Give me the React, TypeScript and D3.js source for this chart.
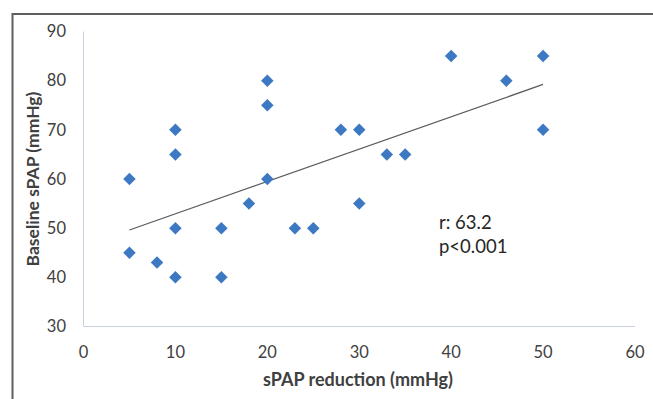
import React, { useEffect, useRef } from 'react';
import * as d3 from 'd3';

// sPAP reduction (mmHg) vs baseline sPAP (mmHg)
const reduction = [5, 5, 8, 10, 10, 10, 10, 15, 15, 18, 20, 20, 20, 23, 25, 28, 30, 30, 33, 35, 40, 46, 50, 50];
const baseline = [60, 45, 43, 70, 65, 50, 40, 50, 40, 55, 80, 75, 60, 50, 50, 70, 70, 55, 65, 65, 85, 80, 85, 70];

const xTicks = [0, 10, 20, 30, 40, 50, 60];
const yTicks = [30, 40, 50, 60, 70, 80, 90];
const statLines = ['r: 63.2', 'p<0.001'];

const W = 653;
const H = 399;
const FONT = 'Lato, "Open Sans", sans-serif';

const App = () => {
  const svgRef = useRef<SVGSVGElement | null>(null);

  useEffect(() => {
    const svg = d3.select(svgRef.current);
    svg.selectAll('*').remove();

    const x = d3.scaleLinear().domain([0, 60]).range([83.5, 635]);
    const y = d3.scaleLinear().domain([30, 90]).range([326.5, 31.5]);

    // outer frame (runs off the right and bottom edge)
    svg.append('path')
      .attr('d', `M12.5,${H + 5} L12.5,14 L${W + 5},14`)
      .attr('fill', 'none')
      .attr('stroke', '#5f5f5f')
      .attr('stroke-width', 2);

    // axes lines
    svg.append('line')
      .attr('x1', x(0)).attr('x2', x(0))
      .attr('y1', y(90)).attr('y2', y(30))
      .attr('stroke', '#c9d2dc').attr('stroke-width', 1);
    svg.append('line')
      .attr('x1', x(0)).attr('x2', x(60))
      .attr('y1', y(30)).attr('y2', y(30))
      .attr('stroke', '#c9d2dc').attr('stroke-width', 1);

    svg.append('g').selectAll('text')
      .data(yTicks)
      .enter().append('text')
      .attr('x', 66)
      .attr('y', d => y(d))
      .attr('dy', '0.35em')
      .attr('text-anchor', 'end')
      .attr('font-family', FONT)
      .attr('font-size', 16.5)
      .attr('fill', '#404040')
      .text(d => d);

    svg.append('g').selectAll('text')
      .data(xTicks)
      .enter().append('text')
      .attr('x', d => x(d))
      .attr('y', 352)
      .attr('dy', '0.35em')
      .attr('text-anchor', 'middle')
      .attr('font-family', FONT)
      .attr('font-size', 16.5)
      .attr('fill', '#404040')
      .text(d => d);

    // axis titles
    svg.append('text')
      .attr('x', 358)
      .attr('y', 380)
      .attr('dy', '0.35em')
      .attr('text-anchor', 'middle')
      .attr('font-family', FONT)
      .attr('font-size', 18)
      .attr('font-weight', 'bold')
      .attr('fill', '#404040')
      .text('sPAP reduction (mmHg)');

    svg.append('text')
      .attr('transform', `translate(33,${(y(30) + y(90)) / 2}) rotate(-90)`)
      .attr('dy', '0.35em')
      .attr('text-anchor', 'middle')
      .attr('font-family', FONT)
      .attr('font-size', 17.5)
      .attr('font-weight', 'bold')
      .attr('fill', '#404040')
      .text('Baseline sPAP (mmHg)');

    // linear trend line
    const mx = d3.mean(reduction) as number;
    const my = d3.mean(baseline) as number;
    const sxy = d3.sum(reduction, (v, i) => (v - mx) * (baseline[i] - my));
    const sxx = d3.sum(reduction, v => (v - mx) ** 2);
    const slope = sxy / sxx;
    const icpt = my - slope * mx;
    const [x0, x1] = d3.extent(reduction) as [number, number];

    svg.append('line')
      .attr('x1', x(x0)).attr('y1', y(icpt + slope * x0))
      .attr('x2', x(x1)).attr('y2', y(icpt + slope * x1))
      .attr('stroke', '#5a5a5a')
      .attr('stroke-width', 1.2);

    // diamonds
    const diamond = d3.symbol().type(d3.symbolDiamond2).size(100);
    svg.append('g').selectAll('path')
      .data(reduction.map((v, i) => [v, baseline[i]]))
      .enter().append('path')
      .attr('d', diamond)
      .attr('transform', d => `translate(${x(d[0])},${y(d[1])})`)
      .attr('fill', '#3d79c3');

    svg.append('g').selectAll('text')
      .data(statLines)
      .enter().append('text')
      .attr('x', 439)
      .attr('y', (d, i) => 223 + i * 24)
      .attr('dy', '0.35em')
      .attr('font-family', FONT)
      .attr('font-size', 18.5)
      .attr('fill', '#262626')
      .text(d => d);
  }, []);

  return (
    <svg
      ref={svgRef}
      width={W}
      height={H}
      style={{ position: 'absolute', left: 0, top: 0, background: '#fff' }}
    ></svg>
  );
};

export default App;
